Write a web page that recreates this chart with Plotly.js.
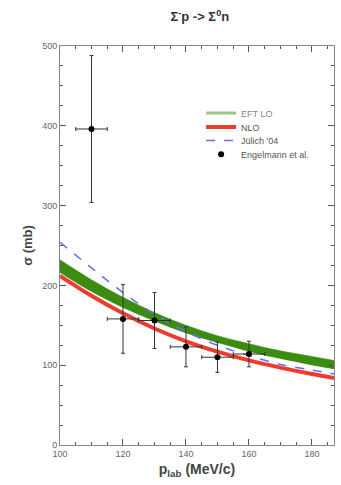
<!DOCTYPE html>
<html>
<head>
<meta charset="utf-8">
<script src="https://cdn.plot.ly/plotly-3.0.1.min.js"></script>
<style>html,body{margin:0;padding:0;background:#fff;}#chart{width:341px;height:485px;}</style>
</head>
<body>
<div id="chart"></div>
<script>
// Curves (p_lab in MeV/c, sigma in mb)
const curveX = [100, 110, 120, 130, 140, 150, 160, 170, 180, 187];
const eftLoUpper = [232, 207, 185, 166, 150, 137, 127, 118, 111, 106];
const eftLoLower = [216, 192, 172, 155, 140, 128, 117, 108, 100, 95];
const nloValues = [212, 187, 165, 146, 130, 117, 106, 97, 89, 84];
const julichValues = [254, 222, 191, 164, 142, 125, 112, 101, 94, 89];

// Engelmann et al. data
const dataX = [110, 120, 130, 140, 150, 160];
const dataY = [396, 158, 156, 123, 110, 114];
const dataErrY = [92, 43, 35, 25, 19, 16];
const dataErrX = [5, 5, 5, 5, 5, 5];

const FONT = 'Liberation Sans, Arial, sans-serif';

const traces = [
  {x: curveX, y: eftLoLower, mode: 'lines', line: {color: '#3c8c14', width: 0, shape: 'spline'}, showlegend: false, hoverinfo: 'skip'},
  {x: curveX, y: eftLoUpper, mode: 'lines', fill: 'tonexty', fillcolor: '#3c8c14', line: {color: '#3c8c14', width: 0.5, shape: 'spline'}, showlegend: false},
  {x: curveX, y: eftLoUpper, mode: 'lines', visible: 'legendonly', line: {color: '#3c8c14', width: 3}, name: 'EFT LO', legend: 'legend'},
  {x: curveX, y: nloValues, mode: 'lines', line: {color: '#ee3b2e', width: 4, shape: 'spline'}, name: 'NLO', legend: 'legend2'},
  {x: curveX, y: julichValues, mode: 'lines', line: {color: '#6b6bf5', width: 1.5, dash: 'dash', shape: 'spline'}, name: 'Jülich \'04', legend: 'legend3'},
  {x: dataX, y: dataY, mode: 'markers', marker: {color: '#000', size: 6}, name: 'Engelmann et al.', legend: 'legend4',
   error_y: {type: 'data', array: dataErrY, visible: true, color: '#333', thickness: 1, width: 2},
   error_x: {type: 'data', array: dataErrX, visible: true, color: '#333', thickness: 1, width: 2}}
];

const axisCommon = {
  showgrid: false, zeroline: false, showline: true, linecolor: '#888', linewidth: 1,
  mirror: 'ticks', ticks: 'inside', ticklen: 6, tickcolor: '#555', tickwidth: 1,
  tickfont: {family: FONT, size: 9, color: '#666'}
};

function legendAt(y, color) {
  return {x: 0.515, y: y, xanchor: 'left', yanchor: 'middle', bgcolor: 'rgba(0,0,0,0)',
          borderwidth: 0, font: {family: FONT, size: 9, color: color || '#555'}, itemclick: false};
}

const layout = {
  width: 341, height: 485,
  margin: {l: 60, r: 7, t: 46, b: 40},
  paper_bgcolor: '#fff', plot_bgcolor: '#fff',
  title: {text: 'Σ<sup>-</sup>p -> Σ<sup>0</sup>n', x: 0.586, xanchor: 'center', y: 0.975, yanchor: 'top',
          font: {family: FONT, size: 13, color: '#333', weight: 'bold'}},
  xaxis: Object.assign({}, axisCommon, {
    range: [100, 187], dtick: 20, tick0: 100,
    minor: {dtick: 5, ticks: 'inside', ticklen: 3, tickcolor: '#555'},
    title: {text: 'p<sub>lab</sub> (MeV/c)', standoff: 6, font: {family: FONT, size: 14, color: '#444', weight: 'bold'}}
  }),
  yaxis: Object.assign({}, axisCommon, {
    range: [0, 500], dtick: 100, tick0: 0,
    minor: {dtick: 25, ticks: 'inside', ticklen: 3, tickcolor: '#555'},
    title: {text: 'σ (mb)', standoff: 6, font: {family: FONT, size: 13, color: '#444', weight: 'bold'}}
  }),
  legend: legendAt(0.832, '#000'),
  legend2: legendAt(0.797),
  legend3: legendAt(0.763),
  legend4: legendAt(0.729),
  showlegend: true
};

Plotly.newPlot('chart', traces, layout, {displayModeBar: false, staticPlot: true});
</script>
</body>
</html>
